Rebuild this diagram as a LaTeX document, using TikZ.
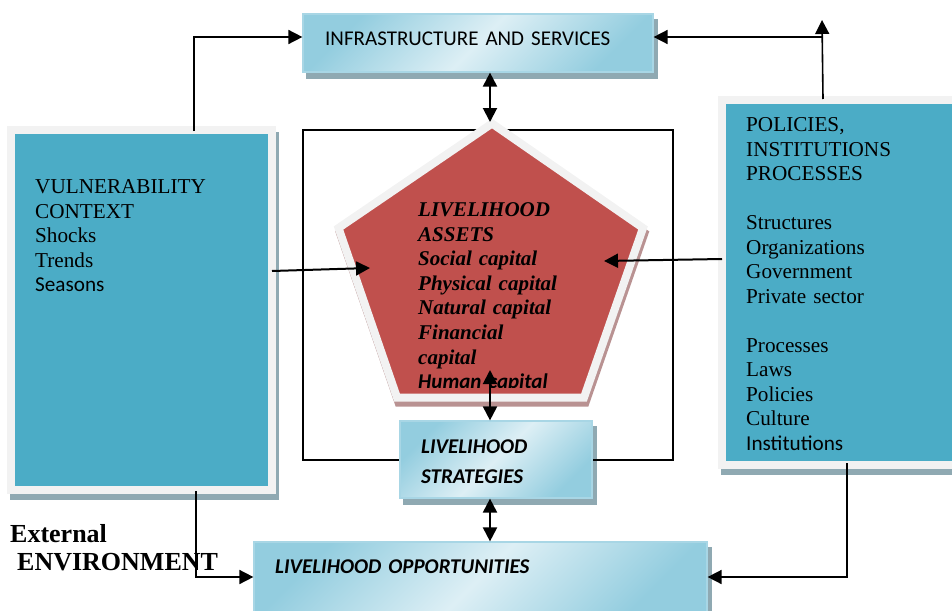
\documentclass[tikz,border=0pt]{standalone}
\usepackage{fontspec}
\setmainfont{Liberation Serif}
\newfontfamily\carlito{Carlito}
\usetikzlibrary{arrows.meta,backgrounds}

\definecolor{tealfill}{HTML}{4BACC6}
\definecolor{framegrey}{HTML}{F2F2F2}
\definecolor{assetred}{HTML}{C0504D}
\definecolor{bdark}{HTML}{93CDDF}
\definecolor{blight}{HTML}{DDEFF5}
\definecolor{bborder}{HTML}{A8D6E5}
\definecolor{bshadow}{HTML}{8FA9B2}
\definecolor{pshadow}{HTML}{B99292}

\begin{document}
\begin{tikzpicture}[x=1pt,y=-1pt,
  lightbox/.style={shade, left color=bdark, right color=bdark, middle color=blight,
    shading angle=45, draw=bborder, line width=1.2pt, inner sep=0pt},
  tealbox/.style={fill=tealfill, draw=framegrey, line width=8pt, inner sep=0pt},
  boxtext/.style={anchor=base west, inner sep=0pt, text width=420pt, align=left},
  serif/.style={font=\fontsize{21.2}{24.5}\selectfont},
  sansbi/.style={font=\carlito\bfseries\itshape\fontsize{21}{30}\selectfont},
  route/.style={line width=1.6pt},
  tip/.style={-{Triangle[length=14pt,width=14pt]}},
  arr/.style={line width=2pt, -{Triangle[length=14pt,width=14pt]}},
  darr/.style={line width=2pt, {Triangle[length=14pt,width=14pt]}-{Triangle[length=14pt,width=14pt]}}]
\useasboundingbox (0,0) rectangle (952,610);

% ---- boxes ----
\node[lightbox, minimum width=350pt, minimum height=58pt] (infra) at (478,43) {};
\node[tealbox, minimum width=261pt, minimum height=360pt] (vul) at (141.5,310) {};
\node[tealbox, minimum width=238pt, minimum height=365pt] (pol) at (841,282.5) {};
\node[draw, line width=1.2pt, minimum width=370pt, minimum height=330pt, inner sep=0pt] (frame) at (488,295) {};

% livelihood assets pentagon with its shadow
\filldraw[pshadow, line width=8pt, line join=miter]
  (493.5,128.5) -- (644.5,233) -- (585.5,402.5) -- (398.5,402.5) -- (340,233) -- cycle;
\filldraw[draw=framegrey, fill=assetred, line width=8pt, line join=miter]
  (492,123.5) -- (643,228) -- (584,397.5) -- (397,397.5) -- (338.5,228) -- cycle;

\node[lightbox, minimum width=192pt, minimum height=77pt] (strat) at (496,459.5) {};
\node[lightbox, minimum width=453pt, minimum height=70pt] (opp) at (480.5,577) {};

% drop shadows
\begin{scope}[on background layer]
  \fill[bshadow] ([shift={(4,6)}]infra.north west) rectangle ([shift={(4,6)}]infra.south east);
  \fill[bshadow] ([shift={(3,6)}]vul.north west) rectangle ([shift={(3,6)}]vul.south east);
  \fill[bshadow] ([shift={(3,6)}]pol.north west) rectangle ([shift={(3,6)}]pol.south east);
  \fill[bshadow] ([shift={(4,6)}]strat.north west) rectangle ([shift={(4,6)}]strat.south east);
  \fill[bshadow] ([shift={(4,6)}]opp.north west) rectangle ([shift={(4,6)}]opp.south east);
\end{scope}

% ---- texts ----
\node[boxtext, font=\carlito\fontsize{21}{24}\selectfont] (infratext) at (325,45.5)
  {INFRASTRUCTURE AND SERVICES};
\node[boxtext, serif] (vultext) at (35,193.5)
  {VULNERABILITY\\CONTEXT\\Shocks\\Trends\\{\carlito Seasons}};
\node[boxtext, serif] (poltext) at (746,131.5)
  {POLICIES,\\INSTITUTIONS\\PROCESSES\\~\\Structures\\Organizations\\Government\\Private sector\\~\\Processes\\Laws\\Policies\\Culture\\{\carlito Institutions}};
\begin{scope}
  \clip (340,150) rectangle (640,387);
  \node[boxtext, font=\bfseries\itshape\fontsize{21}{24.6}\selectfont] (assetstext) at (418,216.5)
    {LIVELIHOOD\\ASSETS\\Social capital\\Physical capital\\Natural capital\\Financial\\capital\\{\carlito Human capital}};
\end{scope}
\node[boxtext, sansbi] (strattext) at (421,453.5)
  {LIVELIHOOD\\STRATEGIES};
\node[boxtext, sansbi] (opptext) at (275,573.5)
  {LIVELIHOOD OPPORTUNITIES};
\node[boxtext, font=\bfseries\fontsize{26}{28}\selectfont] (envtext) at (10,542)
  {External\\\hspace*{7pt}ENVIRONMENT};

% ---- connector ends ----
\coordinate (vulTop) at (194,131);
\coordinate (vulR) at (272,271);
\coordinate (vulB) at (196,491);
\coordinate (polTop) at (823,99);
\coordinate (polTip) at (822,20);
\coordinate (polL) at (722,259);
\coordinate (polB) at (847,463);
\coordinate (assetsTop) at (490,122);
\coordinate (assetsL) at (370,268);
\coordinate (assetsR) at (604,261);
\coordinate (assetsB) at (490,370);
\coordinate (infraL) at ([yshift=6pt]infra.west);
\coordinate (infraR) at ([yshift=6pt]infra.east);

% ---- connectors ----
\draw[route, tip] (vulTop) |- (infraL);
\draw[route, tip] (polTop) -- (polTip);
\draw[route, tip] (polTop |- infraR) -- (infraR);
\draw[darr] (infra.south -| assetsTop) -- (assetsTop);
\draw[arr] (vulR) -- (assetsL);
\draw[arr] (polL) -- (assetsR);
\draw[darr] (assetsB) -- (assetsB |- strat.north);
\draw[darr] (strat.south -| assetsB) -- (opp.north -| assetsB);
\draw[route, tip] (vulB) |- (opp.west);
\draw[route, tip] (polB) |- (opp.east);
\end{tikzpicture}
\end{document}
